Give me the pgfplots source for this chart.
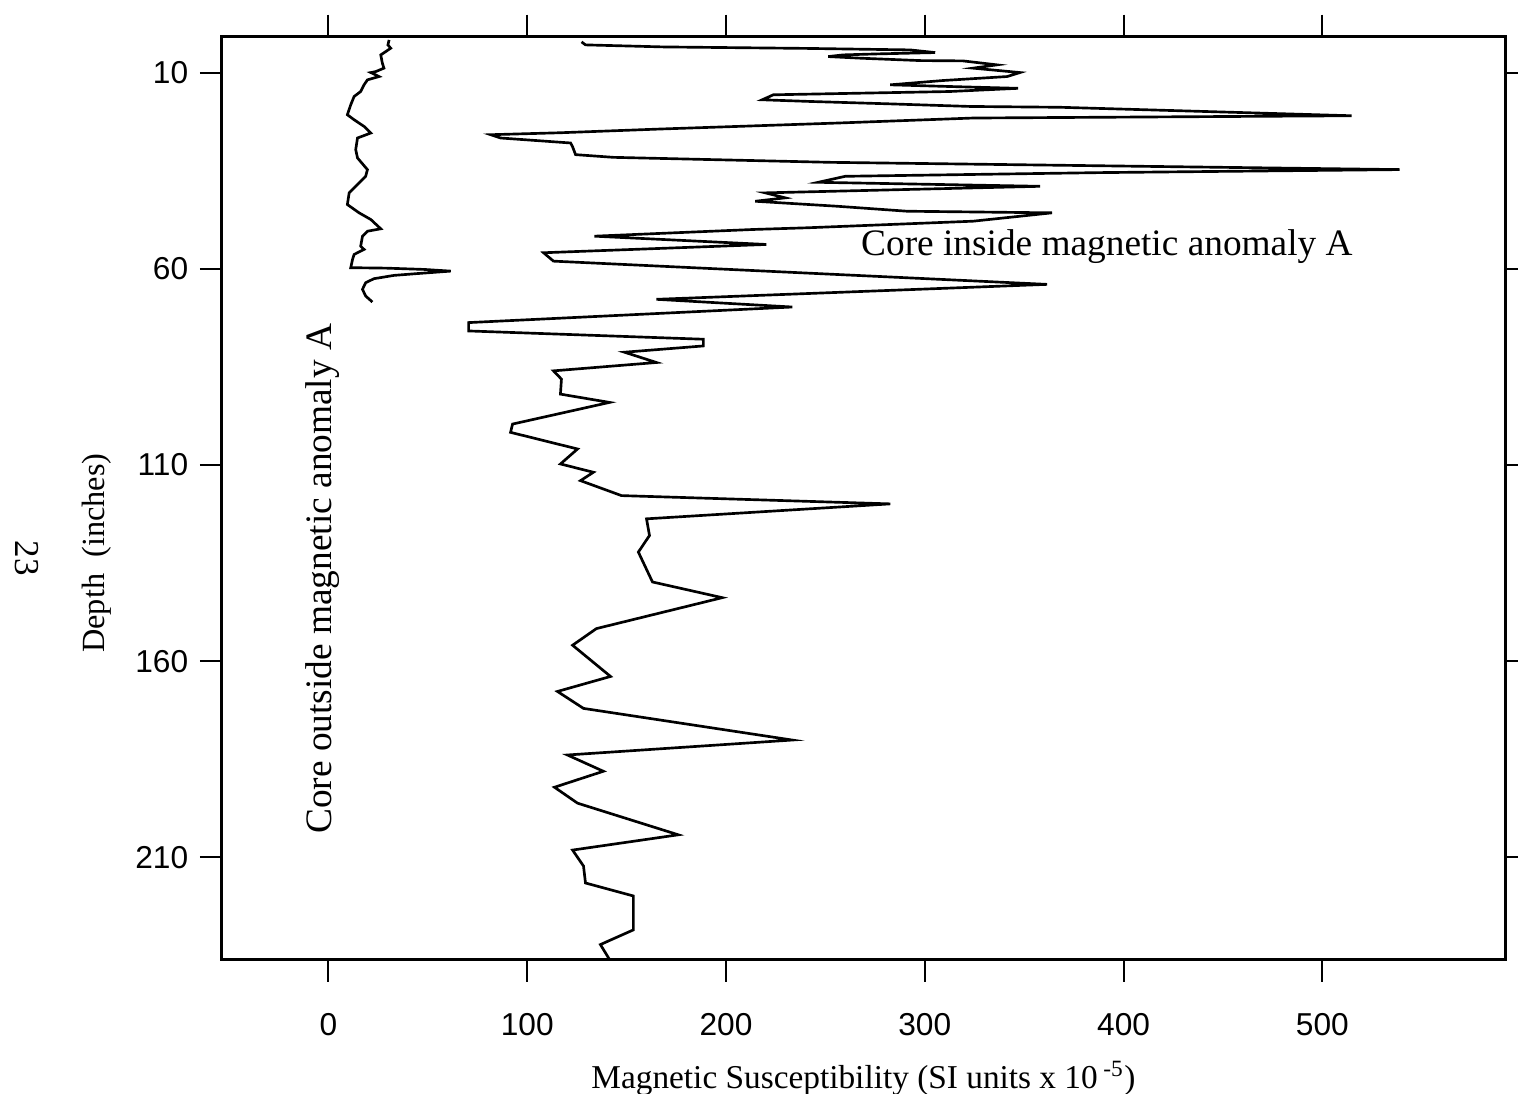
\documentclass[border=0pt]{standalone}
\usepackage{fontspec}
\setmainfont{Liberation Serif}
\newfontfamily\sansnum{Liberation Sans}
\usepackage{pgfplots}
\pgfplotsset{compat=1.18}

% depth (inches) vs susceptibility, outside core
\pgfplotstableread{
x y
30.5 1.69
29.9 2.96
31.3 3.80
28.8 4.66
26.3 5.50
27.1 7.61
27.9 8.88
23.8 9.75
21.3 10.00
25.4 11.02
19.6 11.86
17.9 13.13
16.2 14.83
12.9 16.10
11.2 18.21
9.5 20.76
12.9 22.03
17.9 23.73
21.3 25.41
14.6 26.68
13.7 29.65
14.6 31.76
19.6 34.74
18.7 36.44
13.7 38.99
10.4 40.66
9.5 43.64
15.4 45.75
21.3 47.45
26.3 49.82
19.6 50.43
17.1 51.70
16.2 54.24
17.9 55.08
12.9 56.35
12.1 57.62
11.2 59.73
28.8 59.84
48.0 60.17
61.5 60.60
43.9 61.26
33.0 61.69
22.9 62.53
18.7 63.55
17.1 65.25
18.7 66.95
22.1 68.48
}\outside

% inside core
\pgfplotstableread{
x y
127.3 2.19
129.3 2.95
168.5 3.47
240.9 3.85
292.6 4.23
305.2 4.91
276.0 5.25
258.9 5.50
251.4 5.93
267.5 6.34
297.6 6.95
319.2 7.03
336.3 8.04
324.3 8.88
347.9 10.00
341.4 11.02
309.2 12.03
282.6 13.13
312.7 13.56
346.9 14.02
312.7 14.83
223.8 15.67
218.2 16.94
242.4 17.37
281.1 17.96
322.8 18.64
368.0 18.85
514.7 21.01
324.3 21.59
255.9 22.87
167.0 24.39
116.7 25.34
81.6 25.84
86.6 26.68
121.8 27.95
122.8 28.89
124.3 30.92
143.4 31.61
252.4 32.88
538.9 34.73
388.1 35.50
260.0 36.44
246.4 37.97
358.0 38.99
219.8 40.66
229.8 41.93
214.7 42.80
255.9 44.07
291.1 45.34
364.0 45.75
324.3 47.88
240.9 49.56
213.7 49.99
133.8 51.70
220.3 53.81
108.2 55.92
113.2 58.06
361.5 63.98
165.0 67.79
233.3 69.75
70.5 73.72
70.5 75.85
188.6 77.96
188.6 79.67
148.9 81.27
165.0 83.89
113.2 86.02
117.2 88.13
116.7 91.95
141.4 94.06
92.6 99.58
91.6 101.69
125.3 105.93
116.7 109.75
133.3 111.86
126.8 114.00
147.4 117.81
282.6 119.92
160.0 123.73
161.5 127.98
155.9 132.20
163.0 139.82
198.1 143.82
134.8 151.70
122.8 155.94
141.9 163.90
115.2 167.72
128.3 172.04
233.3 180.10
120.2 183.91
138.3 188.06
113.7 192.13
125.3 196.19
176.0 204.25
122.8 208.14
128.3 212.21
129.3 216.53
153.4 219.84
153.4 228.48
136.8 232.22
141.4 236.04
}\inside

\begin{document}
\begin{tikzpicture}
\begin{axis}[
  scale only axis, width=385pt, height=277pt,
  xmin=-53.6, xmax=591.9, ymin=0.85, ymax=236.1, y dir=reverse,
  xtick={0,100,200,300,400,500}, ytick={10,60,110,160,210},
  tick align=outside, major tick length=6.6pt,
  xtick pos=both, ytick pos=both,
  xticklabel pos=left, yticklabel pos=left,
  axis line style={line width=0.9pt},
  major tick style={line width=0.6pt, black},
  tick label style={font=\sansnum\fontsize{9.5}{11}\selectfont},
  xticklabel style={yshift=-6pt},
  /pgf/number format/assume math mode=true,
  clip=false,
]
\addplot[black, line width=0.8pt] table {\outside};
\addplot[black, line width=0.8pt] table {\inside};
\node[font=\fontsize{11.2}{13}\selectfont] at (axis cs:391.6,54.3) {Core inside magnetic anomaly A};
\node[font=\fontsize{11.2}{13}\selectfont, rotate=90] at (axis cs:-2.9,139.0) {Core outside magnetic anomaly A};
\end{axis}
\node[font=\fontsize{10}{12}\selectfont] at ([yshift=-35.5pt]current axis.south) {Magnetic Susceptibility (SI units x 10\,\textsuperscript{-5})};
\node[font=\fontsize{9.7}{12}\selectfont, rotate=90] at ([xshift=-37.5pt,yshift=-16.5pt]current axis.west) {Depth\ \ (inches)};
\node[font=\fontsize{10.5}{12}\selectfont, rotate=-90] at ([xshift=-58.5pt,yshift=-18pt]current axis.west) {23};
\pgfresetboundingbox
\path ([shift={(-66.6pt,-40.2pt)}]current axis.south west) rectangle ([shift={(3.9pt,11pt)}]current axis.north east);
\end{tikzpicture}
\end{document}
